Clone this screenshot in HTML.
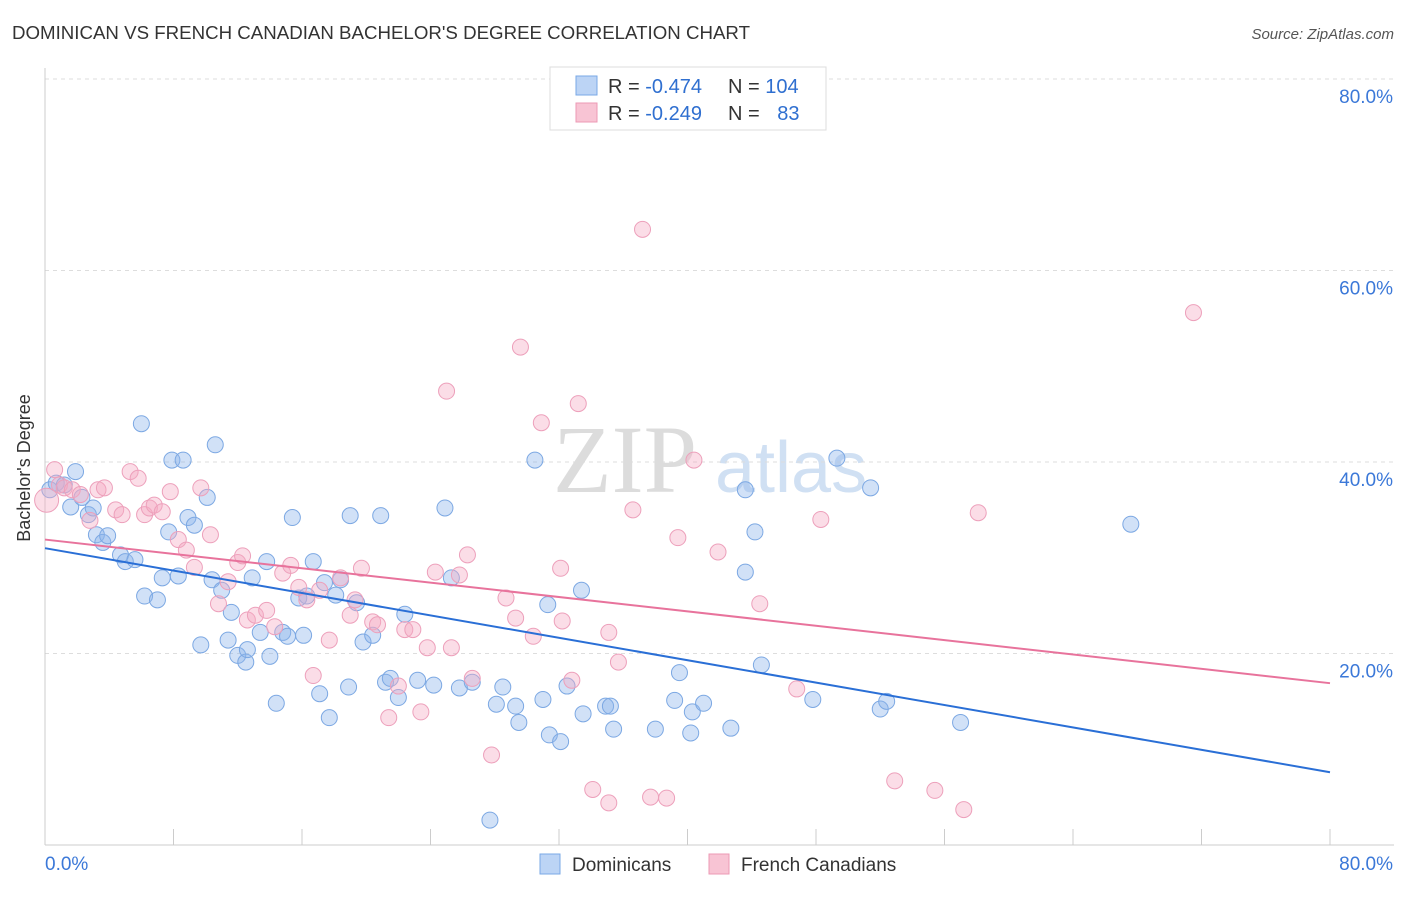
<!DOCTYPE html>
<html><head><meta charset="utf-8"><style>
body{margin:0;background:#fff;font-family:"Liberation Sans",sans-serif;}
svg text{font-family:"Liberation Sans",sans-serif;}
</style></head><body>
<svg id="chart" width="1406" height="892">
<text x="12" y="39" font-size="18" fill="#333" textLength="738" lengthAdjust="spacingAndGlyphs">DOMINICAN VS FRENCH CANADIAN BACHELOR'S DEGREE CORRELATION CHART</text>
<text x="1394" y="39" font-size="15" fill="#555" font-style="italic" text-anchor="end">Source: ZipAtlas.com</text>
<g>
<text x="553" y="492" font-size="96" fill="#dcdcdc" style="font-family:'Liberation Serif',serif">ZIP</text>
<text x="715" y="492" font-size="72" fill="#d0e0f3">atlas</text>
</g>
<g id="grid"></g>
<g id="axes"></g>
<g id="points"></g>
<g id="trends"></g>
<text x="18" y="456" font-size="18" fill="#333" transform="rotate(-90 30 456)" text-anchor="middle">Bachelor's Degree</text>
<g>
<rect x="550" y="67" width="276" height="63" fill="#fff" stroke="#ddd"/>
<rect x="576" y="76" width="21" height="19" fill="#bcd4f5" stroke="#7aa8e6"/>
<rect x="576" y="103" width="21" height="19" fill="#f8c4d4" stroke="#ec9ab5"/>
<text x="608" y="93" font-size="20" fill="#333">R = <tspan fill="#2f6fd0">-0.474</tspan></text>
<text x="728" y="93" font-size="20" fill="#333">N = <tspan fill="#2f6fd0">104</tspan></text>
<text x="608" y="120" font-size="20" fill="#333">R = <tspan fill="#2f6fd0">-0.249</tspan></text>
<text x="728" y="120" font-size="20" fill="#333">N = <tspan fill="#2f6fd0" dx="12">83</tspan></text>
</g>
<g>
<rect x="540" y="854" width="20" height="20" fill="#bcd4f5" stroke="#7aa8e6"/>
<text x="572" y="871" font-size="19" fill="#333">Dominicans</text>
<rect x="709" y="854" width="20" height="20" fill="#f8c4d4" stroke="#ec9ab5"/>
<text x="741" y="871" font-size="19" fill="#333">French Canadians</text>
</g>
</svg>
<script>
const yTicks=[20,40,60,80];
const xTickCount=[0,8,16,24,32,40,48,56,64,72,80];
const blueX=[0.3,0.7,1.2,1.9,1.6,2.3,2.7,3.0,3.2,3.6,3.9,4.7,5.0,5.6,6.0,6.2,7.0,7.3,7.7,7.9,8.3,8.6,8.9,9.3,9.7,10.1,10.4,10.6,11.0,11.4,11.6,12.0,12.5,12.6,12.9,13.4,13.8,14.0,14.4,14.8,15.1,15.4,15.8,16.1,16.3,16.7,17.1,17.4,17.7,18.1,18.4,18.9,19.0,19.4,19.8,20.4,20.9,21.2,21.5,22.0,22.4,23.2,24.2,24.9,25.3,25.8,26.6,27.7,28.1,28.5,29.3,29.5,30.5,31.0,31.3,31.4,32.1,32.5,33.4,33.5,34.9,35.2,35.4,38.0,39.2,39.5,40.2,40.3,41.0,42.7,43.6,43.6,44.2,44.6,47.8,49.3,51.4,52.0,52.4,57.0,67.6];
const blueY=[37.1,37.8,37.6,39.0,35.3,36.3,34.5,35.2,32.4,31.6,32.3,30.3,29.6,29.8,44.0,26.0,25.6,27.9,32.7,40.2,28.1,40.2,34.2,33.4,20.9,36.3,27.7,41.8,26.6,21.4,24.3,19.8,19.1,20.4,27.9,22.2,29.6,19.7,14.8,22.2,21.8,34.2,25.8,21.9,26.0,29.6,15.8,27.4,13.3,26.1,27.7,16.5,34.4,25.3,21.2,21.9,34.4,17.0,17.4,15.4,24.1,17.2,16.7,35.2,27.9,16.4,17.0,2.6,14.7,16.5,14.5,12.8,40.2,15.2,25.1,11.5,10.8,16.6,26.6,13.7,14.5,14.5,12.1,12.1,15.1,18.0,11.7,13.9,14.8,12.2,37.1,28.5,32.7,18.8,15.2,40.4,37.3,14.2,15.0,12.8,33.5];
const pinkX=[0.1,0.6,0.9,1.2,1.7,2.2,2.8,3.3,3.7,4.4,4.8,5.3,5.8,6.2,6.5,6.8,7.3,7.8,8.3,8.8,9.3,9.7,10.3,10.8,11.4,12.0,12.3,12.6,13.1,13.8,14.3,14.8,15.3,15.8,16.3,16.7,17.1,17.7,18.4,19.0,19.3,19.7,20.4,20.7,21.4,22.0,22.4,22.9,23.4,23.8,24.3,25.0,25.3,25.8,26.3,26.6,27.8,28.7,29.3,29.6,30.4,30.9,32.1,32.2,32.8,33.2,34.1,35.1,35.7,35.1,36.6,37.2,37.7,38.7,39.4,40.4,41.9,44.5,46.8,48.3,52.9,55.4,57.2,58.1,71.5];
const pinkY=[36.0,39.2,37.6,37.3,37.1,36.6,33.9,37.1,37.3,35.0,34.5,39.0,38.3,34.5,35.2,35.5,34.8,36.9,31.9,30.8,29.0,37.3,32.4,25.2,27.5,29.5,30.2,23.5,24.0,24.5,22.8,28.4,29.2,26.9,25.6,17.7,26.6,21.4,27.9,24.0,25.6,28.9,23.3,23.0,13.3,16.6,22.5,22.5,13.9,20.6,28.5,47.4,20.6,28.2,30.3,17.4,9.4,25.8,23.7,52.0,21.8,44.1,28.9,23.4,17.2,46.1,5.8,4.4,19.1,22.2,35.0,64.3,5.0,4.9,32.1,40.2,30.6,25.2,16.3,34.0,6.7,5.7,3.7,34.7,55.6];
const blueTrend=[31.0,7.6];
const pinkTrend=[31.9,16.9];
const NS='http://www.w3.org/2000/svg';
const X0=45,X1=1330,Y0=845,Y80=79;
const sx=v=>X0+v/80*(X1-X0);
const sy=v=>Y0-v/80*(Y0-Y80);
function mk(tag,attrs,parent){const e=document.createElementNS(NS,tag);for(const k in attrs)e.setAttribute(k,attrs[k]);parent.appendChild(e);return e;}
const grid=document.getElementById('grid'),axes=document.getElementById('axes'),pts=document.getElementById('points'),tr=document.getElementById('trends');
yTicks.forEach(t=>{
 const l=mk('line',{x1:X0,x2:1394,y1:sy(t),y2:sy(t),stroke:'#ddd','stroke-dasharray':'4,4'},grid);
 
 
 const tx=mk('text',{x:1393,y:sy(t)+24,'font-size':19,fill:'#3b78d8','text-anchor':'end'},grid);
 tx.textContent=t.toFixed(1)+'%';
 
 
});
const ya=mk('line',{x1:X0,x2:X0,y1:68,y2:Y0,stroke:'#ccc'},axes);


const xa=mk('line',{x1:X0,x2:1394,y1:Y0,y2:Y0,stroke:'#ccc'},axes);


xTickCount.forEach(t=>{
 const l=mk('line',{x1:sx(t),x2:sx(t),y1:829,y2:Y0,stroke:'#ccc'},axes);
 
 
});
[[0,'start',45],[80,'end',1393]].forEach(([v,a,x])=>{
 const tx=mk('text',{x:x,y:870,'font-size':19,fill:'#3b78d8','text-anchor':a},axes);
 tx.textContent=v.toFixed(1)+'%';
 
 
});
blueX.forEach((v,i)=>{
 const c=mk('circle',{cx:sx(v),cy:sy(blueY[i]),r:8,fill:'rgba(140,180,235,0.4)',stroke:'#7ca8e3','stroke-width':1},pts);
 
 
});
pinkX.forEach((v,i)=>{
 const c=mk('circle',{cx:sx(v),cy:sy(pinkY[i]),r:i===0?12:8,fill:'rgba(245,170,195,0.4)',stroke:'#eda0bb','stroke-width':1},pts);
 
 
});
const bl=mk('line',{x1:sx(0),y1:sy(blueTrend[0]),x2:sx(80),y2:sy(blueTrend[1]),stroke:'#2a6fd6','stroke-width':2},tr);


const pl=mk('line',{x1:sx(0),y1:sy(pinkTrend[0]),x2:sx(80),y2:sy(pinkTrend[1]),stroke:'#e8739c','stroke-width':2},tr);


</script>
</body></html>
